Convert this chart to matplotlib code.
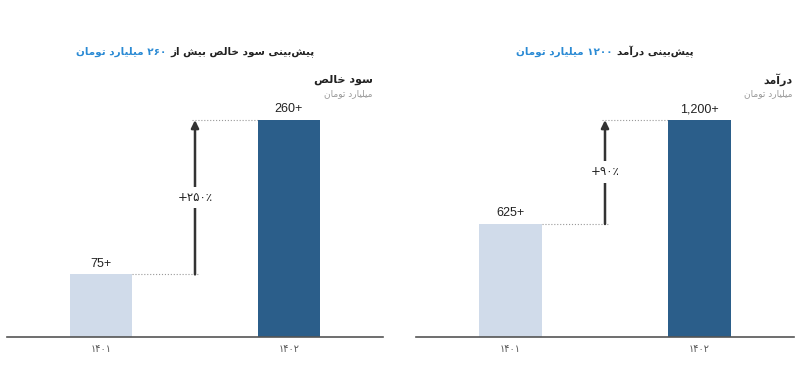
import re
import matplotlib
matplotlib.use('Agg')
import matplotlib.pyplot as plt


##################### DATA #####################

years = ['۱۴۰۱', '۱۴۰۲']
profit_values = [75, 260]
revenue_values = [625, 1200]
profit_growth = '+۲۵۰٪'
revenue_growth = '+۹۰٪'

profit_title_black = 'پیش\u200cبینی سود خالص بیش از'
profit_title_blue = '۲۶۰ میلیارد تومان'
revenue_title_black = 'پیش\u200cبینی درآمد'
revenue_title_blue = '۱۲۰۰ میلیارد تومان'
profit_header = 'سود خالص'
revenue_header = 'درآمد'
unit_label = 'میلیارد تومان'

bar_colors = ['#d0dbea', '#2b5e8a']
BLUE = '#2a8ad4'


##################### PERSIAN SHAPING #####################

# isolated, final, initial, medial
FORMS = {
    '\u0627': ('\uFE8D', '\uFE8E', None, None),
    '\u0622': ('\uFE81', '\uFE82', None, None),
    '\u0628': ('\uFE8F', '\uFE90', '\uFE91', '\uFE92'),
    '\u067E': ('\uFB56', '\uFB57', '\uFB58', '\uFB59'),
    '\u062A': ('\uFE95', '\uFE96', '\uFE97', '\uFE98'),
    '\u062E': ('\uFEA5', '\uFEA6', '\uFEA7', '\uFEA8'),
    '\u062F': ('\uFEA9', '\uFEAA', None, None),
    '\u0631': ('\uFEAD', '\uFEAE', None, None),
    '\u0632': ('\uFEAF', '\uFEB0', None, None),
    '\u0633': ('\uFEB1', '\uFEB2', '\uFEB3', '\uFEB4'),
    '\u0634': ('\uFEB5', '\uFEB6', '\uFEB7', '\uFEB8'),
    '\u0635': ('\uFEB9', '\uFEBA', '\uFEBB', '\uFEBC'),
    '\u0644': ('\uFEDD', '\uFEDE', '\uFEDF', '\uFEE0'),
    '\u0645': ('\uFEE1', '\uFEE2', '\uFEE3', '\uFEE4'),
    '\u0646': ('\uFEE5', '\uFEE6', '\uFEE7', '\uFEE8'),
    '\u0648': ('\uFEED', '\uFEEE', None, None),
    '\u06CC': ('\uFBFC', '\uFBFD', '\uFBFE', '\uFBFF'),
}


def fa(s):
    out = []
    for i, c in enumerate(s):
        if c not in FORMS:
            out.append(c)
            continue
        prev = s[i - 1] if i > 0 else ''
        nxt = s[i + 1] if i + 1 < len(s) else ''
        isol, fin, init, med = FORMS[c]
        joins_prev = prev in FORMS and FORMS[prev][2] is not None
        joins_next = init is not None and nxt in FORMS
        if joins_prev and joins_next:
            out.append(med)
        elif joins_prev:
            out.append(fin)
        elif joins_next:
            out.append(init)
        else:
            out.append(isol)
    shaped = ''.join(c for c in out if c != '\u200c')
    # visual order: reverse, but keep digit runs left to right
    tokens = re.findall(r'[0-9\u06F0-\u06F9,]+|[^0-9\u06F0-\u06F9,]', shaped)
    return ''.join(reversed(tokens))


##################### PLOT #####################

W, H = 800, 388
FONT = ['Liberation Sans', 'DejaVu Sans']
plt.rcParams['font.family'] = FONT

fig = plt.figure(figsize=(W / 100, H / 100), dpi=100)
titles = []  # (black text, blue text, centre px)


def px(x, y):
    return x / W, 1 - y / H


def Draw_Panel(left, right, values, growth, title_black, title_blue, header,
               title_center, header_right):
    base, top = 337, 70
    ax = fig.add_axes([left / W, 1 - base / H, (right - left) / W, (base - top) / H])
    # 217 px from baseline to the top of the tallest bar
    ymax = max(values) * (base - top) / 217

    x = [0, 1]
    ax.bar(x, values, width=1 / 3, color=bar_colors, zorder=2)
    ax.set_xlim(-0.5, 1.5)
    ax.set_ylim(0, ymax)

    for xi, v in zip(x, values):
        ax.text(xi, v + ymax * 0.018, f'{v:,}+', ha='center', va='bottom',
                fontsize=9, color='#222')

    lo, hi = values
    ax.plot([1 / 6, 0.52], [lo, lo], ls=':', color='#999', lw=0.8, zorder=1)
    ax.plot([0.485, 5 / 6], [hi, hi], ls=':', color='#999', lw=0.8, zorder=1)
    ax.annotate('', xy=(0.5, hi), xytext=(0.5, lo),
                arrowprops=dict(arrowstyle='-|>,head_width=0.22,head_length=0.45',
                                color='#333', lw=1.8, shrinkA=0, shrinkB=0))
    ax.text(0.5, (lo + hi) / 2, growth, ha='center', va='center', fontsize=8.5,
            color='#222', family=['DejaVu Sans'],
            bbox=dict(facecolor='white', edgecolor='none', pad=3))

    ax.set_xticks(x)
    ax.set_xticklabels([fa(y) for y in years], family=['DejaVu Sans'],
                       fontsize=7, color='#555')
    ax.tick_params(axis='x', length=0, pad=5)
    ax.set_yticks([])
    for side in ['top', 'right', 'left']:
        ax.spines[side].set_visible(False)
    ax.spines['bottom'].set_color('#555')
    ax.spines['bottom'].set_linewidth(1.2)

    tb = fig.text(*px(title_center, 52), fa(title_black), ha='right', va='center',
                  fontsize=7.5, fontweight='bold', color='#222', family=['DejaVu Sans'])
    tl = ax.annotate(fa(title_blue), xy=(0, 0.5), xycoords=tb, xytext=(-4, 0),
                     textcoords='offset pixels', ha='right', va='center', fontsize=7.5,
                     fontweight='bold', color=BLUE, family=['DejaVu Sans'],
                     annotation_clip=False)
    titles.append((tb, tl, title_center))

    fig.text(*px(header_right, 80), fa(header), ha='right', va='center',
             fontsize=8, fontweight='bold', color='#222', family=['DejaVu Sans'])
    fig.text(*px(header_right, 94), fa(unit_label), ha='right', va='center',
             fontsize=6.5, color='#999', family=['DejaVu Sans'])
    return ax


Draw_Panel(7, 383, profit_values, profit_growth, profit_title_black,
           profit_title_blue, profit_header, 195, 373)
Draw_Panel(416, 794, revenue_values, revenue_growth, revenue_title_black,
           revenue_title_blue, revenue_header, 605, 793)

# centre each two-colour title on its reference position
fig.canvas.draw()
r = fig.canvas.get_renderer()
for tb, tl, center in titles:
    x0 = tl.get_window_extent(r).x0
    x1 = tb.get_window_extent(r).x1
    tb.set_x((center + (x1 - x0) / 2) / W)

fig.savefig('out.png', dpi=100)
